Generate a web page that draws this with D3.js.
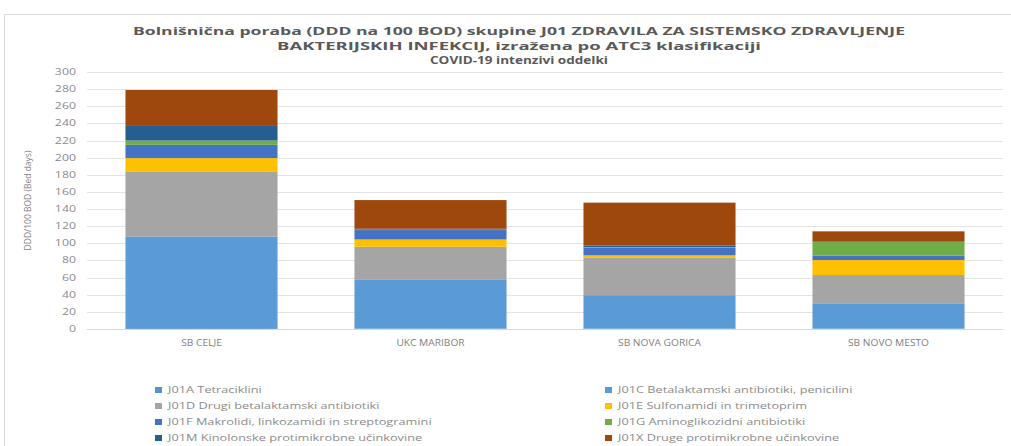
<!DOCTYPE html>
<html>
<head>
<meta charset="utf-8">
<script src="https://cdn.jsdelivr.net/npm/d3@7"></script>
<style>
  body { margin: 0; background: #fff; }
  text { font-family: "Open Sans", "Liberation Sans", sans-serif; fill: #595959; }
</style>
</head>
<body>
<div id="chart"></div>
<script>
const WIDTH = 1011;
const HEIGHT = 446;

// bolnisnice
const hospitals = ['SB CELJE', 'UKC MARIBOR', 'SB NOVA GORICA', 'SB NOVO MESTO'];

// ATC3 skupine (legenda, vrstni red zlaganja)
const groups = [
  'J01A Tetraciklini',
  'J01C Betalaktamski antibiotiki, penicilini',
  'J01D Drugi betalaktamski antibiotiki',
  'J01E Sulfonamidi in trimetoprim',
  'J01F Makrolidi, linkozamidi in streptogramini',
  'J01G Aminoglikozidni antibiotiki',
  'J01M Kinolonske protimikrobne učinkovine',
  'J01X Druge protimikrobne učinkovine'
];
const groupColors = ['#5592cb', '#5b9bd5', '#a5a5a5', '#ffc000', '#4472c4', '#70ad47', '#255e91', '#9e480e'];

// DDD na 100 BOD, po bolnisnicah (isti vrstni red kot hospitals)
const j01a = [1, 0.5, 0.5, 0.5];
const j01c = [107, 57.5, 39, 29.5];
const j01d = [76, 38, 43.5, 33];
const j01e = [15.5, 8.5, 3, 17.5];
const j01f = [15.5, 11, 9, 5];
const j01g = [5, 0.5, 0.5, 16];
const j01m = [18, 1, 2, 0.5];
const j01x = [41, 33.5, 50, 12];
const series = [j01a, j01c, j01d, j01e, j01f, j01g, j01m, j01x];

const yTicks = d3.range(0, 301, 20);

const svg = d3.select('#chart').append('svg')
  .attr('width', WIDTH).attr('height', HEIGHT);

// okvir grafa
svg.append('rect').attr('x', 4.5).attr('y', 14.5)
  .attr('width', 1030).attr('height', 460)
  .attr('fill', '#fff').attr('stroke', '#d9d9d9');

const x = d3.scaleBand().domain(hospitals).range([87, 1003]).paddingInner(0.336).paddingOuter(0.168);
const y = d3.scaleLinear().domain([0, 300]).range([329, 72]);

// mreza
svg.append('g').selectAll('line').data(yTicks).join('line')
  .attr('x1', 87).attr('x2', 1003)
  .attr('y1', d => Math.round(y(d)) + 0.5).attr('y2', d => Math.round(y(d)) + 0.5)
  .attr('stroke', '#e3e3e3').attr('stroke-width', 1);

// os y (besedilo raztegnjeno vodoravno kot na sliki)
svg.append('g').selectAll('text').data(yTicks).join('text')
  .attr('transform', d => `translate(76,${y(d) + 3}) scale(1.45,1)`)
  .attr('text-anchor', 'end').attr('font-size', 8.5).style('fill', '#8c8c8c')
  .text(d => d);

svg.append('text')
  .attr('transform', 'translate(31,' + y(150) + ') rotate(-90)')
  .attr('text-anchor', 'middle').attr('font-size', 8.5).style('fill', '#7f7f7f')
  .text('DDD/100 BOD (Bed days)');

// zlaganje
const table = hospitals.map((h, i) => {
  const row = { hospital: h };
  groups.forEach((g, k) => { row[g] = series[k][i]; });
  return row;
});
const stacked = d3.stack().keys(groups)(table);

svg.append('g').selectAll('g').data(stacked).join('g')
  .attr('fill', (d, i) => groupColors[i])
  .selectAll('rect').data(d => d).join('rect')
  .attr('x', d => x(d.data.hospital))
  .attr('width', x.bandwidth())
  .attr('y', d => y(d[1]))
  .attr('height', d => y(d[0]) - y(d[1]));

// os x
svg.append('line').attr('x1', 87).attr('x2', 1003).attr('y1', 329.5).attr('y2', 329.5)
  .attr('stroke', '#d9d9d9');
svg.append('g').selectAll('text').data(hospitals).join('text')
  .attr('transform', d => `translate(${x(d) + x.bandwidth() / 2},346) scale(1.2,1)`)
  .attr('text-anchor', 'middle').attr('font-size', 8.5).style('fill', '#7f7f7f')
  .text(d => d);

// naslov
const titleLines = [
  'Bolnišnična poraba (DDD na 100 BOD) skupine J01 ZDRAVILA ZA SISTEMSKO ZDRAVLJENJE',
  'BAKTERIJSKIH INFEKCIJ, izražena po ATC3 klasifikaciji',
  'COVID-19 intenzivi oddelki'
];
const titleWidths = [772, 484, 178];
svg.append('g').selectAll('text').data(titleLines).join('text')
  .attr('x', 519).attr('y', (d, i) => 35 + i * 14.5)
  .attr('text-anchor', 'middle').attr('font-size', 10.5).attr('font-weight', 'bold')
  .attr('textLength', (d, i) => titleWidths[i]).attr('lengthAdjust', 'spacingAndGlyphs')
  .text(d => d);

// legenda
const legend = svg.append('g').selectAll('g').data(groups).join('g')
  .attr('transform', (d, i) => `translate(${i % 2 === 0 ? 155 : 605},${390 + Math.floor(i / 2) * 16})`);
legend.append('rect').attr('x', 0).attr('y', -3).attr('width', 7).attr('height', 6)
  .attr('fill', (d, i) => groupColors[i]);
legend.append('text').attr('transform', 'translate(13,3) scale(1.5,1)')
  .attr('font-size', 8.5).style('fill', '#8c8c8c')
  .text(d => d);
</script>
</body>
</html>
